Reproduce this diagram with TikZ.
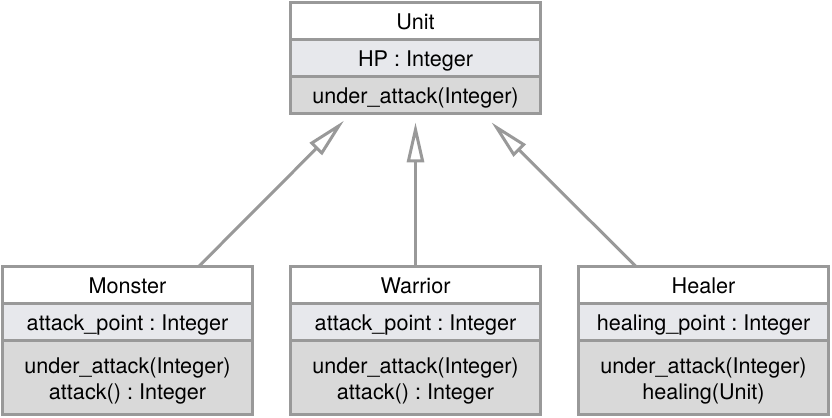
\documentclass[tikz,border=0pt]{standalone}
\usepackage{fontspec}
\setmainfont{TeX Gyre Heros}
\usetikzlibrary{shapes.multipart, positioning, arrows.meta, calc}
\definecolor{umlline}{HTML}{999999}
\definecolor{attrfill}{HTML}{E7E8EC}
\definecolor{opfill}{HTML}{D9D9D9}
\frenchspacing
\newcommand{\onerow}{\rule[-4.1pt]{0pt}{17pt}}
\newcommand{\tworows}[2]{\begin{tabular}{@{}c@{}}\rule{0pt}{15.75pt}#1\\#2\rule[-6.75pt]{0pt}{6.75pt}\end{tabular}}
\tikzset{
    umlclass/.style={
        draw=umlline,
        line width=1.5pt,
        rectangle split,
        rectangle split parts=3,
        rectangle split part fill={white,attrfill,opfill},
        minimum width=125pt,
        inner ysep=0pt,
        outer sep=0pt,
        font=\fontsize{10.8}{13}\selectfont,
    },
    inherit/.style={
        draw=umlline,
        line width=1.5pt,
        -{Triangle[open, length=20pt, width=8.5pt]},
    }
}

\begin{document}
\begin{tikzpicture}[node distance=76.4pt and 19pt]
                   \useasboundingbox (0,0) rectangle (416pt,-209pt);
                   \node[umlclass, anchor=north] (unit) at (207.75pt,-1.25pt) {Unit\onerow
                   \nodepart{second} HP : Integer\onerow
                   \nodepart{third} under\_attack(Integer)\onerow};
                   \node[umlclass, below=of unit] (warrior) {Warrior\onerow
                   \nodepart{second} attack\_point : Integer\onerow
                   \nodepart{third} \tworows{under\_attack(Integer)}{attack() : Integer}};
                   \node[umlclass, left=of warrior] (monster) {Monster\onerow
                   \nodepart{second} attack\_point : Integer\onerow
                   \nodepart{third} \tworows{under\_attack(Integer)}{attack() : Integer}};
                   \node[umlclass, right=of warrior] (healer) {Healer\onerow
                   \nodepart{second} healing\_point : Integer\onerow
                   \nodepart{third} \tworows{under\_attack(Integer)}{healing(Unit)}};
                   % arrow ends just under the Unit box
                   \coordinate (mon-tail) at ($(monster.north)+(35.7pt,0)$);
                   \coordinate (mon-tip) at ($(unit.south)+(-35.75pt,-3.6pt)$);
                   \coordinate (war-tip) at ($(unit.south)+(0,-4.45pt)$);
                   \coordinate (heal-tail) at ($(healer.north)+(-33.85pt,0)$);
                   \coordinate (heal-tip) at ($(unit.south)+(38pt,-4.45pt)$);
                   \draw[inherit] (mon-tail) -- (mon-tip);
                   \draw[inherit] (warrior.north) -- (war-tip);
                   \draw[inherit] (heal-tail) -- (heal-tip);
\end{tikzpicture}
\end{document}
